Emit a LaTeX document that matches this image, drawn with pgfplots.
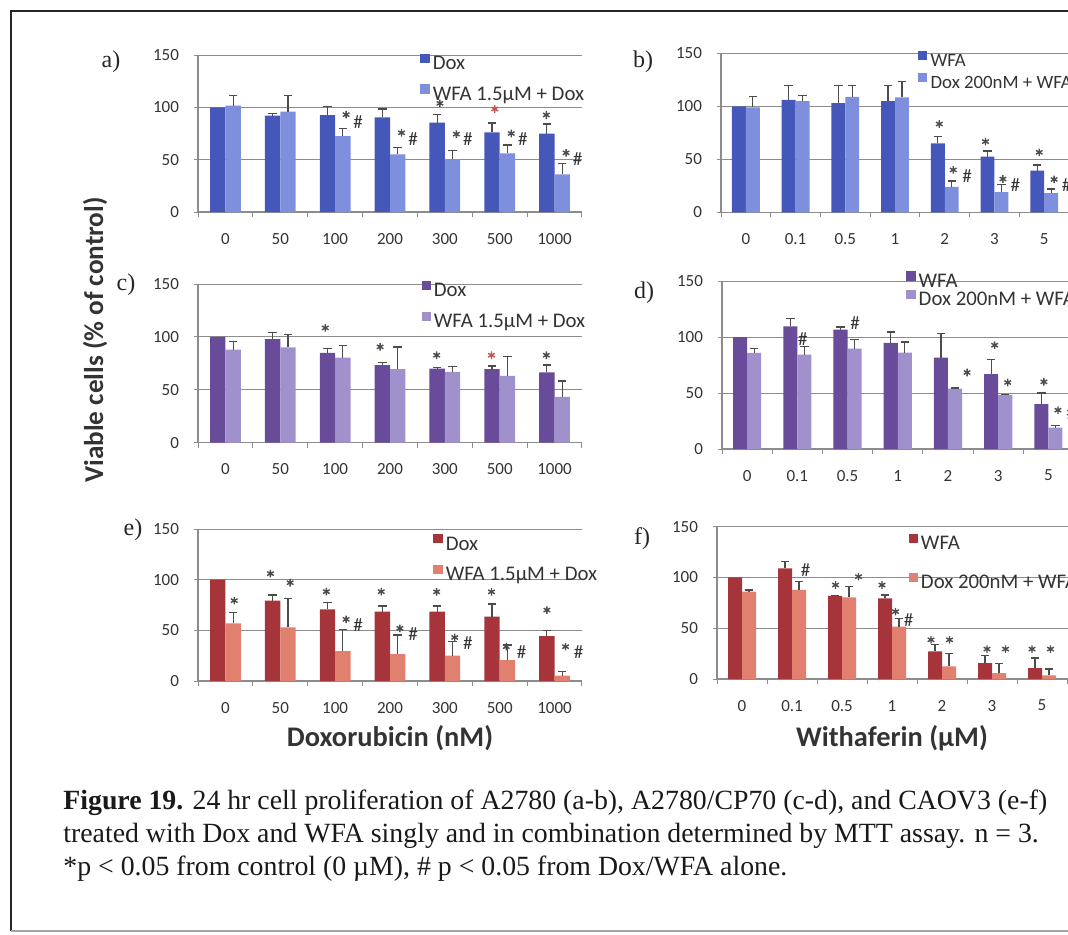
\documentclass[border=0pt]{standalone}
\usepackage{fontspec}
\setmainfont{Carlito}
\newfontfamily\serif{Liberation Serif}
\usepackage{pgfplots}
\usepackage{pgfplotstable}
\pgfplotsset{compat=1.18}

\definecolor{dblue}{HTML}{4558BA}
\definecolor{lblue}{HTML}{7D8FDD}
\definecolor{dpurp}{HTML}{684C9A}
\definecolor{lpurp}{HTML}{A090CB}
\definecolor{dred}{HTML}{A5353A}
\definecolor{lred}{HTML}{E2806F}
\definecolor{axgray}{HTML}{8C8C8C}
\definecolor{txt}{HTML}{333333}
\definecolor{starred}{HTML}{C0504D}

% x = category index -/+ 0.14 (dark / light bar), y = % of control, e = SD
\pgfplotstableread{
x y e
-0.14 100 0
0.86 92 2
1.86 92.6 8
2.86 90.4 8
3.86 85.3 8
4.86 76 9
5.86 75 9
}\aD
\pgfplotstableread{
x y e
0.14 101.6 10
1.14 96 15
2.14 72.5 7.5
3.14 55 7
4.14 50.5 8
5.14 56 8
6.14 36 10
}\aL
\pgfplotstableread{
x y e
-0.14 100 0
0.86 106 14
1.86 103 17
2.86 105 14.5
3.86 65 6.7
4.86 52.5 5.4
5.86 39.3 5.4
}\bD
\pgfplotstableread{
x y e
0.14 99 10
1.14 105 5
2.14 109 10.5
3.14 108.5 14.8
4.14 24 5.6
5.14 19 7.5
6.14 18 4
}\bL
\pgfplotstableread{
x y e
-0.14 100 0
0.86 97.8 6
1.86 85 4
2.86 73.3 2.2
3.86 70 1
4.86 69.5 3
5.86 66.4 7
}\cD
\pgfplotstableread{
x y e
0.14 88 8
1.14 90 12.5
2.14 80.5 11.6
3.14 69.5 21
4.14 67 4.7
5.14 63.2 18.2
6.14 43.4 15
}\cL
\pgfplotstableread{
x y e
-0.14 100 0
0.86 109.6 6.8
1.86 106.6 2.4
2.86 94.7 9.8
3.86 81.7 21.4
4.86 66.8 13.4
5.86 40 10
}\dD
\pgfplotstableread{
x y e
0.14 85.8 3.9
1.14 84.3 6.9
2.14 89.7 8.3
3.14 86.1 9.5
4.14 54 0.5
5.14 48 0.7
6.14 19 1.8
}\dL
\pgfplotstableread{
x y e
-0.14 100 0
0.86 79.3 5.6
1.86 70.7 6.6
2.86 68.4 5.6
3.86 68.4 5.6
4.86 63.5 12.5
5.86 44.4 5.3
}\eD
\pgfplotstableread{
x y e
0.14 57 10.8
1.14 53 28.6
2.14 29.6 21.4
3.14 26.6 18.8
4.14 25 13.8
5.14 20.7 14.8
6.14 5.3 4
}\eL
\pgfplotstableread{
x y e
-0.14 100 0
0.86 109 6.5
1.86 81.8 0.7
2.86 79.5 3.3
3.86 27.2 6.5
4.86 15.7 7.5
5.86 10.8 9.8
}\fD
\pgfplotstableread{
x y e
0.14 86 1.7
1.14 87.7 8.2
2.14 80.5 10.5
3.14 51.7 8.2
4.14 12.4 12.5
5.14 5.9 9.1
6.14 3.6 6.2
}\fL

\pgfplotsset{
  panel/.style={
    scale only axis, anchor=south west,
    xmin=-0.5, ymin=0, ymax=150,
    ytick={0,50,100,150}, yticklabels={0,50,100,150},
    xtick={0,...,6},
    minor xtick={-0.5,0.5,...,6.5},
    axis x line*=bottom, axis y line*=left,
    axis line style={draw=axgray, line width=0.6pt, -},
    ymajorgrids, grid style={draw=axgray, line width=0.5pt},
    tick align=outside, major tick length=2pt, minor tick length=2.5pt,
    tick style={draw=axgray, line width=0.5pt},
    major x tick style={draw=none},
    ticklabel style={font=\fontsize{8.5}{10}\selectfont, text=txt},
    xticklabel style={yshift=-5pt},
    yticklabel style={xshift=-4pt},
    clip=false,
    legend cell align=left,
    legend style={draw=none, fill=none, inner sep=0pt, anchor=north west,
      font=\fontsize{10.4}{12}\selectfont, text=txt,
      nodes={inner sep=0pt, text height=0.72em, text depth=0.22em},
      /tikz/every odd column/.append style={column sep=1.6pt}},
  },
  bars/.style={ybar, bar width=0.28, bar shift=0pt, draw=none,
    legend image code/.code={\fill[##1] (0pt,0.9pt) rectangle (4.6pt,5.5pt);}},
  errp/.style={forget plot, draw=none, mark=none,
    error bars/y dir=plus, error bars/y explicit, error bars/error mark=none,
    error bars/error bar style={draw=black!70, line width=0.6pt}},
  capp/.style={forget plot, only marks, mark=-, mark size=2.1pt,
    mark options={draw=black!70, line width=0.6pt}},
  skipfirst/.style={skip coords between index={0}{1}},
  starp/.style={forget plot, only marks, mark=asterisk, mark size=1.9pt,
    mark options={line width=0.7pt}, draw=black!70},
  hashp/.style={forget plot, draw=none, mark=none, nodes near coords,
    point meta=explicit symbolic,
    nodes near coords style={anchor=center, inner sep=0pt,
      font=\fontsize{9.5}{9.5}\selectfont, text=txt}},
}

% bars of one series
\newcommand{\series}[3]{%
  \addplot[bars, fill=#2] table[x=x,y=y] {#1};
  \addlegendentry{#3}
}
% SD bars and caps of one series
\newcommand{\errors}[2][]{%
  \addplot[errp,#1] table[x=x,y=y,y error=e] {#2};
  \addplot[capp,#1] table[x=x,y expr=\thisrow{y}+\thisrow{e}] {#2};
}

\begin{document}
\begin{tikzpicture}[x=0.5pt,y=0.5pt]
\path[use as bounding box] (0,0) rectangle (1068,934);
\clip (0,0) rectangle (1068,934);

% frame
\draw[line width=1pt, black!85] (11,3) -- (11,923) -- (1090,923);
\draw[line width=0.6pt, black!35] (11,3) -- (1090,3);

% ---------- a ----------
\begin{axis}[panel, at={(99pt,361pt)}, width=192pt, height=78.5pt, xmax=6.5,
  xticklabels={0,50,100,200,300,500,1000},
  legend style={at={(0.578,1.01)}, row sep=5.1pt}]
\series{\aD}{dblue}{Dox}
\series{\aL}{lblue}{WFA 1.5µM + Dox}
\errors[skipfirst]{\aD}
\errors{\aL}
\addplot[starp] coordinates {(3.91,103.8) (5.85,92.7)
 (2.2,93) (3.21,75.7) (4.21,74.4) (5.21,75) (6.21,56.5)};
\addplot[starp, draw=starred] coordinates {(4.91,98.4)};
\addplot[hashp] coordinates {(2.42,86) [\#] (3.42,69.3) [\#] (4.42,69.3) [\#]
 (5.42,69.3) [\#] (6.42,51) [\#]};
\end{axis}

% ---------- b ----------
\begin{axis}[panel, at={(360.5pt,360.85pt)}, width=177pt, height=79.5pt, xmax=6.62,
  xticklabels={0,0.1,0.5,1,2,3,5},
  legend style={at={(0.556,1.018)}, row sep=0.8pt, font=\fontsize{9.4}{11}\selectfont}]
\series{\bD}{dblue}{WFA}
\series{\bL}{lblue}{Dox 200nM + WFA}
\errors[skipfirst]{\bD}
\errors{\bL}
\addplot[starp] coordinates {(3.89,83.3) (4.82,66.7) (5.9,56.6)
 (4.17,40) (5.17,31.4) (6.2,31)};
\addplot[hashp] coordinates {(4.45,34.3) [\#] (5.42,25.8) [\#] (6.45,25.8) [\#]};
\end{axis}

% ---------- c ----------
\begin{axis}[panel, at={(99pt,245.65pt)}, width=192pt, height=79.35pt, xmax=6.5,
  xticklabels={0,50,100,200,300,500,1000},
  legend style={at={(0.581,1.022)}, row sep=5.1pt}]
\series{\cD}{dpurp}{Dox}
\series{\cL}{lpurp}{WFA 1.5µM + Dox}
\errors[skipfirst]{\cD}
\errors{\cL}
\addplot[starp] coordinates {(1.82,108.5) (2.82,90.6) (3.85,82.7) (5.85,82.7)};
\addplot[starp, draw=starred] coordinates {(4.85,82.7)};
\end{axis}

% ---------- d ----------
\begin{axis}[panel, at={(361pt,242.5pt)}, width=176.5pt, height=84pt, xmax=6.53,
  xticklabels={0,0.1,0.5,1,2,3,5},
  legend style={at={(0.521,1.06)}, row sep=-0.9pt}]
\series{\dD}{dpurp}{WFA}
\series{\dL}{lpurp}{Dox 200nM + WFA}
\errors[skipfirst]{\dD}
\errors{\dL}
\addplot[starp] coordinates {(4.38,68.3) (4.93,92.7) (5.19,59.4) (5.91,60) (6.19,34.7)};
\addplot[hashp] coordinates {(1.11,98) [\#] (2.15,112) [\#] (6.45,31.8) [\#]};
\end{axis}

% ---------- e ----------
\begin{axis}[panel, at={(99pt,126.5pt)}, width=192pt, height=76pt, xmax=6.5,
  xticklabels={0,50,100,200,300,500,1000},
  legend style={at={(0.612,0.968)}, row sep=5.1pt}]
\series{\eD}{dred}{Dox}
\series{\eL}{lred}{WFA 1.5µM + Dox}
\errors[skipfirst]{\eD}
\errors{\eL}
\addplot[starp] coordinates {(0.82,106) (0.16,79.3) (1.18,97)
 (1.84,88.2) (2.2,60.9) (2.84,88.2) (3.18,52) (3.85,88) (4.18,43)
 (4.85,88) (5.12,33.9) (5.86,70) (6.2,33.9)};
\addplot[hashp] coordinates {(2.42,55.3) [\#] (3.42,46.4) [\#] (4.42,37.2) [\#]
 (5.4,29) [\#] (6.44,29) [\#]};
\end{axis}

% ---------- f ----------
\begin{axis}[panel, at={(358.5pt,127.5pt)}, width=179pt, height=76.15pt, xmax=6.66,
  xticklabels={0,0.1,0.5,1,2,3,5},
  legend style={at={(0.534,0.955)}, row sep=9.3pt}]
\series{\fD}{dred}{WFA}
\series{\fL}{lred}{Dox 200nM + WFA}
\errors[skipfirst]{\fD}
\errors{\fL}
\addplot[starp] coordinates {(1.87,92.6) (2.33,100.8) (2.8,92.6) (3.07,66.4)
 (3.78,38.6) (4.15,38.6) (4.9,29.5) (5.27,29.5) (5.8,29.5) (6.17,29.5)};
\addplot[hashp] coordinates {(1.27,107.4) [\#] (3.33,58.3) [\#]};
\end{axis}

% panel letters
\begin{scope}[font=\serif\fontsize{12}{12}\selectfont, text=black!85]
\node at (111,872) {a)};
\node at (643,872) {b)};
\node at (126,649) {c)};
\node at (644,641) {d)};
\node at (133,404) {e)};
\node at (642,395) {f)};
\end{scope}

% axis titles
\node[rotate=90, font=\bfseries\fontsize{13.6}{15}\selectfont, text=txt] at (95,594) {Viable cells (\% of control)};
\node[font=\bfseries\fontsize{14.2}{15}\selectfont, text=txt] at (390,196) {Doxorubicin (nM)};
\node[font=\bfseries\fontsize{14.2}{15}\selectfont, text=txt] at (892,196) {Withaferin (µM)};

% caption
\begin{scope}[font=\serif\fontsize{13.9}{16}\selectfont, text=black!90]
\node[anchor=base west, inner sep=0pt] at (63,125) {\textbf{Figure 19.} 24 hr cell proliferation of A2780 (a-b), A2780/CP70 (c-d), and CAOV3 (e-f)};
\node[anchor=base west, inner sep=0pt] at (63,92) {treated with Dox and WFA singly and in combination determined by MTT assay. n = 3.};
\node[anchor=base west, inner sep=0pt] at (63,59) {*p < 0.05 from control (0 µM), \# p < 0.05 from Dox/WFA alone.};
\end{scope}
\end{tikzpicture}
\end{document}
